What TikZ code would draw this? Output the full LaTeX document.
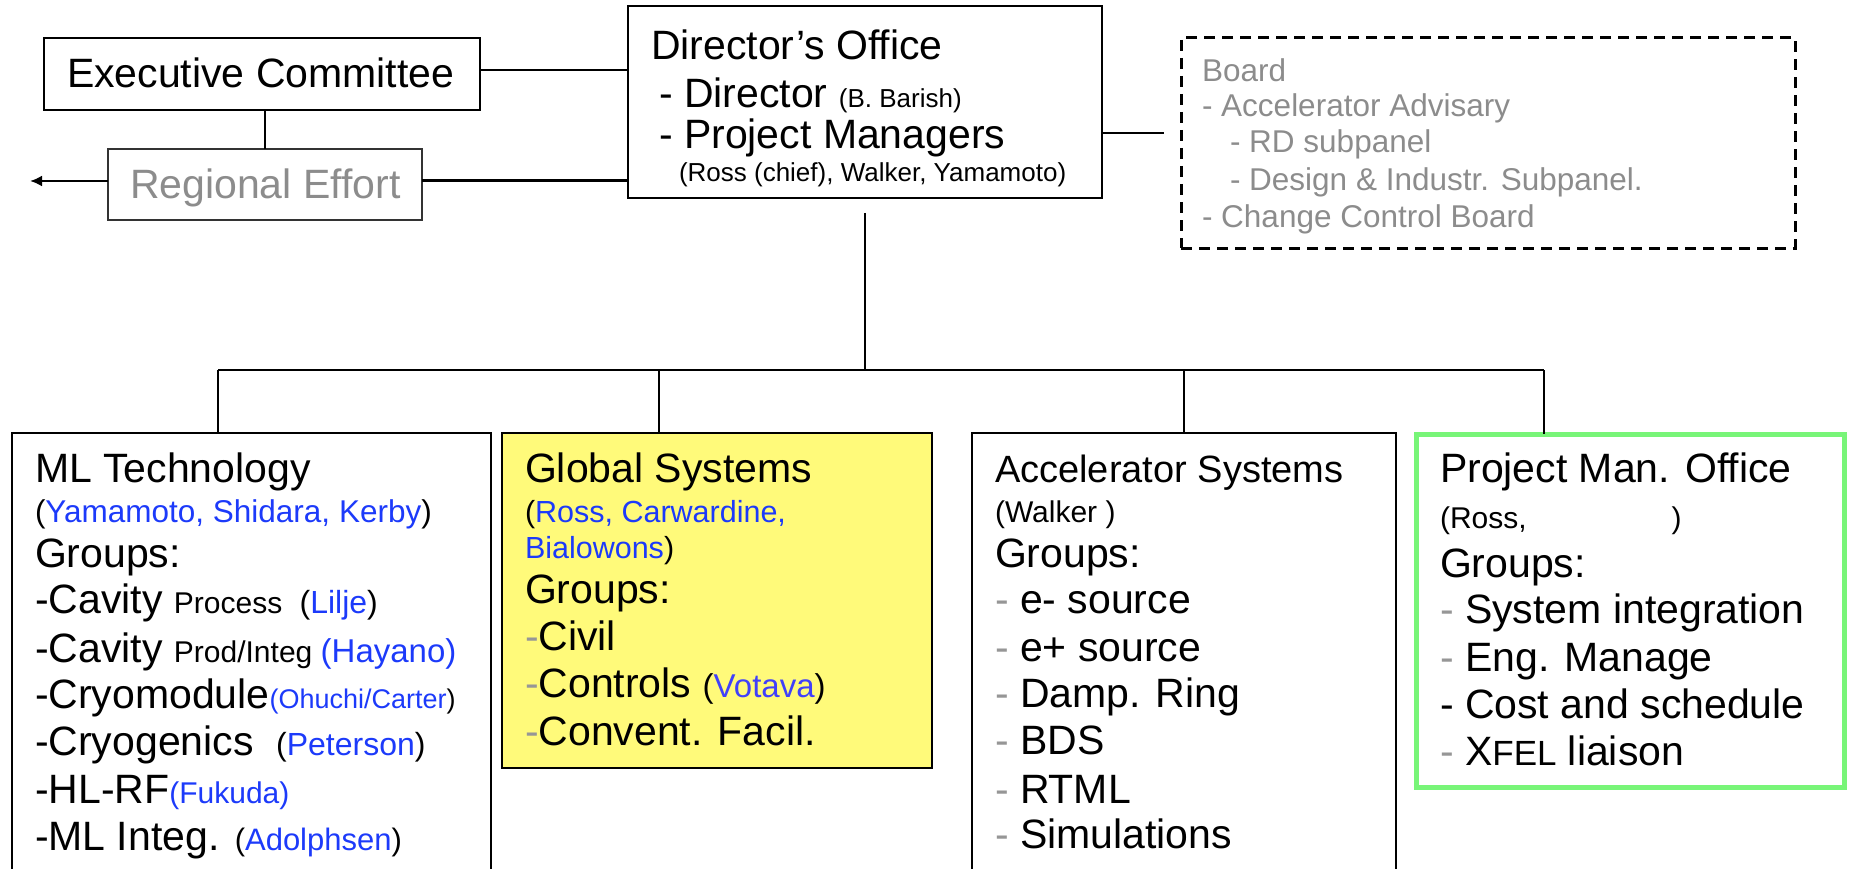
\documentclass[tikz,border=0pt]{standalone}
\usepackage{fontspec}
\setmainfont{Liberation Sans}
\usetikzlibrary{arrows.meta}

\definecolor{namecol}{RGB}{28,58,250}
\definecolor{namecolb}{RGB}{64,64,250}
\definecolor{softgray}{RGB}{140,140,140}
\definecolor{dashgray}{RGB}{150,150,150}
\definecolor{sysyellow}{RGB}{255,250,122}
\definecolor{pmgreen}{RGB}{120,245,120}

% font sizes (1pt = 1 unit of the drawing)
\newcommand\szL{\fontsize{41}{48}\selectfont}
\newcommand\szT{\fontsize{38}{44}\selectfont}
\newcommand\szS{\fontsize{30}{36}\selectfont}
\newcommand\szB{\fontsize{31.5}{36}\selectfont}
\newcommand\szD{\fontsize{26}{30}\selectfont}
\newcommand\fs[1]{\fontsize{#1}{#1}\selectfont}
\newcommand\nm[1]{\textcolor{namecol}{#1}}
\newcommand\gd{\textcolor{dashgray}{-}}

\begin{document}
\begin{tikzpicture}[x=1pt,y=-1pt,
  box/.style={draw=black,line width=2.6pt,inner sep=0pt,outer sep=0pt,anchor=north west},
  ln/.style={anchor=base west,inner sep=0pt,outer sep=0pt,font=\szL},
  wire/.style={draw=black,line width=2.5pt}]
\useasboundingbox (0,0) rectangle (1855,869);
\clip (0,0) rectangle (1855,869);

% ---------- top row ----------
\node[box,minimum width=436pt,minimum height=72pt] (exec) at (44,38) {};
\node[ln] (execT) at (67,88) {Executive Committee};

\node[box,draw=black!80,minimum width=314pt,minimum height=71pt] (reg) at (108,149) {};
\node[ln,text=softgray] (regT) at (130,199) {Regional Effort};

\node[box,minimum width=474pt,minimum height=192pt] (dir) at (628,6) {};
\node[ln] (dir1) at (651,60) {Director’s Office};
\node[ln] (dir2) at (659,108) {- Director {\szD (B. Barish)}};
\node[ln] (dir3) at (659,149) {- Project Managers};
\node[ln,font=\szD] (dir4) at (679,182) {(Ross (chief), Walker, Yamamoto)};

\node[box,dashed,dash pattern=on 11pt off 7pt,line width=3pt,
      minimum width=614pt,minimum height=210pt] (brd) at (1181,38) {};
\begin{scope}[every node/.style={ln,font=\szB,text=softgray}]
  \node (brd1) at (1202,82) {Board};
  \node (brd2) at (1202,117) {- Accelerator Advisary};
  \node (brd3) at (1230,153) {- RD subpanel};
  \node (brd4) at (1230,191) {- Design \& Industr. Subpanel.};
  \node (brd5) at (1202,227) {- Change Control Board};
\end{scope}

% ---------- connectors of the top row ----------
\coordinate (regout) at (30,181);
\coordinate (brdlink) at (1164,133);
\draw[wire] ([yshift=4pt]exec.east) -- ([yshift=4pt]exec.east -| dir.west);
\draw[wire] ([yshift=4pt]reg.east) -- ([yshift=4pt]reg.east -| dir.west);
\draw[wire,-{Latex[length=12pt,width=11pt]}] (reg.west |- regout) -- (regout);
\draw[wire] (exec.south -| 265,0) -- (reg.north -| 265,0);
\draw[wire] (brdlink -| dir.east) -- (brdlink);

% ---------- bottom row ----------
\node[box,minimum width=479pt,minimum height=470pt] (ml) at (12,433) {};
\node[box,fill=sysyellow,minimum width=430pt,minimum height=335pt] (gs) at (502,433) {};
\node[box,minimum width=424pt,minimum height=470pt] (acc) at (972,433) {};
\node[box,draw=pmgreen,line width=5pt,minimum width=428pt,minimum height=353pt] (pmo) at (1416,434) {};

% ML Technology
\node[ln] (ml1) at (35,482) {ML Technology};
\node[ln,font=\fs{31.5}] (ml2) at (35,522) {(\nm{Yamamoto, Shidara, Kerby})};
\node[ln] (ml3) at (35,567) {Groups:};
\node[ln] (ml4) at (35,613) {-Cavity {\szS Process\hspace{9pt} \fs{32}(\nm{Lilje})}};
\node[ln] (ml5) at (35,662) {-Cavity {\szS Prod/Integ \fs{33}\nm{(Hayano)}}};
\node[ln] (ml6) at (35,708) {-Cryomodule{\fs{27}\nm{(Ohuchi/Carter})}};
\node[ln] (ml7) at (35,755) {-Cryogenics\hspace{11pt} {\fs{32}(\nm{Peterson})}};
\node[ln] (ml8) at (35,803) {-HL-RF{\szS\nm{(Fukuda)}}};
\node[ln] (ml9) at (35,850) {-ML Integ. {\fs{31}(\nm{Adolphsen})}};

% Global Systems
\node[ln] (gs1) at (525,482) {Global Systems};
\node[ln,font=\fs{30.5}] (gs2) at (525,522) {(\nm{Ross, Carwardine,}};
\node[ln,font=\fs{30.5}] (gs3) at (525,558) {\nm{Bialowons})};
\node[ln] (gs4) at (525,603) {Groups:};
\node[ln] (gs5) at (525,650) {\gd Civil};
\node[ln] (gs6) at (525,697) {\gd Controls {\fs{33}(\textcolor{namecolb}{Votava})}};
\node[ln] (gs7) at (525,745) {\gd Convent. Facil.};

% Accelerator Systems
\node[ln,font=\szT] (acc1) at (995,482) {Accelerator Systems};
\node[ln,font=\szS] (acc2) at (995,522) {(Walker )};
\node[ln] (acc3) at (995,567) {Groups:};
\node[ln] (acc4) at (995,613) {\gd{} e- source};
\node[ln] (acc5) at (995,661) {\gd{} e+ source};
\node[ln] (acc6) at (995,707) {\gd{} Damp. Ring};
\node[ln] (acc7) at (995,754) {\gd{} BDS};
\node[ln] (acc8) at (995,803) {\gd{} RTML};
\node[ln] (acc9) at (995,848) {\gd{} Simulations};

% Project Man. Office
\node[ln] (pm1) at (1440,482) {Project Man. Office};
\node[ln,font=\szS] (pm2) at (1440,528) {(Ross,\hspace{145pt})};
\node[ln] (pm3) at (1440,577) {Groups:};
\node[ln] (pm4) at (1440,623) {\gd{} System integration};
\node[ln] (pm5) at (1440,671) {\gd{} Eng. Manage};
\node[ln] (pm6) at (1440,718) {- Cost and schedule};
\node[ln] (pm7) at (1440,765) {\gd{} X{\fs{35}FEL} liaison};

% ---------- tree below the Director's Office ----------
\coordinate (trunktop) at (865,213);
\coordinate (trunk) at (865,370);
\coordinate (dml) at (218,370);
\coordinate (dgs) at (659,370);
\coordinate (dacc) at (1184,370);
\coordinate (dpm) at (1544,370);
\draw[wire] (trunktop) -- (trunk);
\draw[wire] (dml) -- (dpm);
\draw[wire] (dml) -- (dml |- ml.north);
\draw[wire] (dgs) -- (dgs |- gs.north);
\draw[wire] (dacc) -- (dacc |- acc.north);
\draw[wire] (dpm) -- (dpm |- pmo.north);
\end{tikzpicture}
\end{document}
